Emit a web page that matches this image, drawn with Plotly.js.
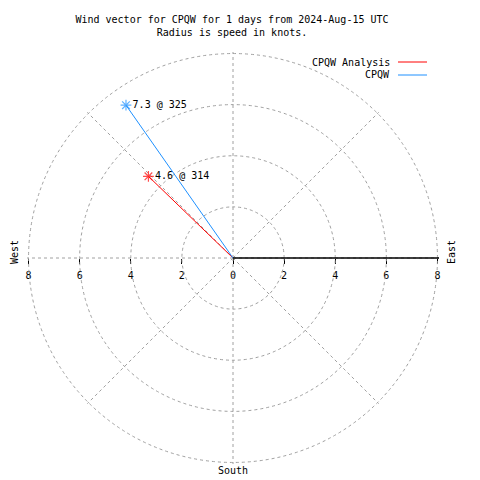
<!DOCTYPE html>
<html>
<head>
<meta charset="utf-8">
<script src="https://cdn.plot.ly/plotly-3.0.1.min.js"></script>
<style>html,body{margin:0;padding:0;background:#fff;}#chart{width:480px;height:480px;}</style>
</head>
<body>
<div id="chart"></div>
<script>
// ---- data ----
const seriesNames = ["CPQW Analysis", "CPQW"];
const seriesColors = ["#ff0000", "#1e90ff"];
const speeds = [4.6, 7.3];        // knots
const directions = [314, 325];    // degrees (compass)
const radialTicks = [0, 2, 4, 6, 8];
const xTickVals = [-8, -6, -4, -2, 0, 2, 4, 6, 8];
const xTickText = ["8", "6", "4", "2", "0", "2", "4", "6", "8"];
const titleLines = ["Wind vector for CPQW for 1 days from 2024-Aug-15 UTC", "Radius is speed in knots."];

const FONT = "DejaVu Sans Mono, Liberation Mono, monospace";
const FS = 10;
const GRID = "#a0a0a0";
const RMAX = 8.06;

// plot-area geometry: r=8 at 204 px from centre (233,258)
const R = 204 * RMAX / 8;
const M = {l: Math.round(233 - R), r: Math.round(480 - 233 - R), t: Math.round(258 - R), b: Math.round(480 - 258 - R)};
const W = 480 - M.l - M.r, H = 480 - M.t - M.b;
const px = x => (x - M.l) / W;
const py = y => (480 - M.b - y) / H;

const traces = [];
for (let i = 0; i < speeds.length; i++) {
  traces.push({
    type: "scatterpolar",
    mode: "lines+markers+text",
    r: [0, speeds[i]],
    theta: [directions[i], directions[i]],
    text: ["", speeds[i].toFixed(1) + " @ " + directions[i]],
    textposition: "middle right",
    textfont: {family: FONT, size: FS, color: "#000"},
    line: {color: seriesColors[i], width: 1},
    marker: {symbol: "asterisk-open", size: [0, 9], color: seriesColors[i], line: {color: seriesColors[i], width: 1.2}},
    name: seriesNames[i],
    showlegend: false,
    hoverinfo: "skip",
    cliponaxis: false
  });
}
// cartesian helper to carry the horizontal tick labels
traces.push({type: "scatter", x: [], y: [], xaxis: "x", yaxis: "y", showlegend: false, hoverinfo: "skip"});

const annotations = [
  {text: "West", x: px(14), y: py(252), xref: "paper", yref: "paper", xanchor: "center", yanchor: "middle", showarrow: false, textangle: -90, font: {family: FONT, size: FS, color: "#000"}},
  {text: "East", x: px(451), y: py(252), xref: "paper", yref: "paper", xanchor: "center", yanchor: "middle", showarrow: false, textangle: -90, font: {family: FONT, size: FS, color: "#000"}},
  {text: "South", x: px(233), y: py(470), xref: "paper", yref: "paper", xanchor: "center", yanchor: "middle", showarrow: false, font: {family: FONT, size: FS, color: "#000"}}
];
const shapes = [];
const legendY = [62, 75];
for (let i = 0; i < seriesNames.length; i++) {
  annotations.push({text: seriesNames[i], x: px(392), y: py(legendY[i]), xref: "paper", yref: "paper", xanchor: "right", yanchor: "middle", showarrow: false, font: {family: FONT, size: FS, color: "#000"}});
  shapes.push({type: "line", xref: "paper", yref: "paper", x0: px(398), x1: px(427), y0: py(legendY[i]), y1: py(legendY[i]), line: {color: seriesColors[i], width: 1}});
}

const layout = {
  width: 480, height: 480,
  margin: M,
  paper_bgcolor: "#fff", plot_bgcolor: "rgba(0,0,0,0)",
  showlegend: false,
  font: {family: FONT, size: FS, color: "#000"},
  title: {text: titleLines.join("<br>"), x: px(232), xref: "paper", xanchor: "center", y: 1 - 23 / 480, yanchor: "middle", font: {family: FONT, size: FS, color: "#000"}},
  polar: {
    domain: {x: [0, 1], y: [0, 1]},
    bgcolor: "rgba(0,0,0,0)",
    radialaxis: {
      range: [0, RMAX], tickvals: radialTicks.slice(1), angle: 0,
      showline: true, linecolor: "#000", linewidth: 1.5,
      ticks: "", showticklabels: false,
      gridcolor: GRID, griddash: "3px,3px", gridwidth: 1
    },
    angularaxis: {
      rotation: 90, direction: "clockwise", dtick: 45,
      showline: false, ticks: "", showticklabels: false,
      gridcolor: GRID, griddash: "3px,3px", gridwidth: 1
    }
  },
  xaxis: {
    domain: [0, 1], range: [-RMAX, RMAX], anchor: "free", position: 0.5,
    tickvals: xTickVals, ticktext: xTickText, ticks: "outside", ticklen: 5, tickcolor: "#000", tickwidth: 1,
    ticklabelstandoff: 3,
    showgrid: false, zeroline: false, showline: false, fixedrange: true,
    tickfont: {family: FONT, size: FS, color: "#000"}
  },
  yaxis: {domain: [0, 1], range: [-RMAX, RMAX], visible: false, fixedrange: true},
  annotations: annotations,
  shapes: shapes
};

Plotly.newPlot("chart", traces, layout, {staticPlot: true, displayModeBar: false});
</script>
</body>
</html>
